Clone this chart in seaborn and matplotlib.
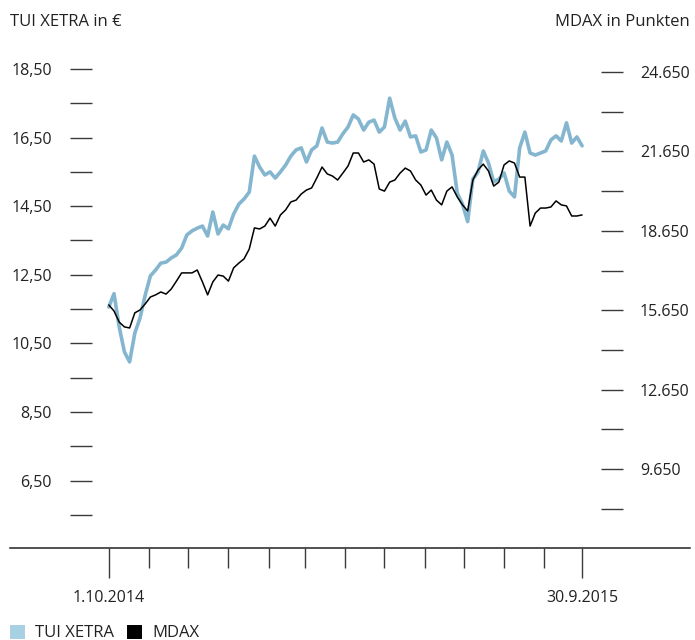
import matplotlib
matplotlib.use("Agg")
import matplotlib.pyplot as plt
from matplotlib.patches import Patch
import seaborn as sns
import numpy as np
import pandas as pd

# values, one point every 4 days
start = "2014-10-01"
end = "2015-09-30"

tui = [11.56, 11.95, 10.98, 10.25, 9.96, 10.80, 11.24, 11.91, 12.47, 12.64,
       12.84, 12.87, 12.99, 13.08, 13.28, 13.66, 13.78, 13.86, 13.92, 13.63,
       14.33, 13.69, 13.95, 13.84, 14.27, 14.56, 14.71, 14.91, 15.96, 15.64,
       15.41, 15.50, 15.32, 15.50, 15.70, 15.96, 16.14, 16.20, 15.79, 16.14,
       16.26, 16.78, 16.37, 16.34, 16.37, 16.61, 16.81, 17.16, 17.04, 16.72,
       16.95, 17.01, 16.66, 16.81, 17.65, 17.07, 16.72, 16.98, 16.52, 16.55,
       16.08, 16.14, 16.72, 16.49, 15.85, 16.37, 15.99, 14.88, 14.56, 14.05,
       15.29, 15.50, 16.11, 15.76, 15.21, 15.29, 15.47, 14.94, 14.77, 16.20,
       16.66, 16.05, 15.99, 16.05, 16.11, 16.43, 16.55, 16.40, 16.93, 16.34,
       16.52, 16.26]

mdax = [15850, 15620, 15200, 15020, 14980, 15550, 15660, 15890, 16150, 16230,
        16340, 16260, 16450, 16750, 17060, 17060, 17060, 17170, 16720, 16230,
        16720, 16980, 16940, 16750, 17250, 17430, 17590, 17960, 18760, 18720,
        18830, 19130, 18830, 19250, 19440, 19740, 19810, 20040, 20190, 20270,
        20650, 21060, 20800, 20720, 20570, 20830, 21100, 21590, 21590, 21250,
        21330, 21170, 20230, 20150, 20490, 20570, 20830, 21020, 20910, 20570,
        20380, 20000, 20190, 19810, 19630, 20150, 20310, 19930, 19630, 19400,
        20570, 20950, 21170, 20910, 20340, 20490, 21140, 21290, 21210, 20680,
        20680, 18830, 19320, 19510, 19510, 19550, 19780, 19630, 19590, 19210,
        19210, 19250]

left_ticks = [6.5, 8.5, 10.5, 12.5, 14.5, 16.5, 18.5]
left_labels = ["6,50", "8,50", "10,50", "12,50", "14,50", "16,50", "18,50"]
left_minor = [5.5, 7.5, 9.5, 11.5, 13.5, 15.5, 17.5]
right_ticks = [9650, 12650, 15650, 18650, 21650, 24650]
right_labels = ["9.650", "12.650", "15.650", "18.650", "21.650", "24.650"]
right_minor = [8150, 11150, 14150, 17150, 20150, 23150]
x_labels = ["1.10.2014", "30.9.2015"]

dates = pd.date_range(start, end, freq="4D")
df = pd.DataFrame({"date": dates, "tui": tui, "mdax": mdax})

sns.set_style("white")
plt.rcParams["font.family"] = ["Open Sans", "DejaVu Sans"]
plt.rcParams["axes.unicode_minus"] = False

blue_line = "#85b6cf"
blue_patch = "#a8d0e3"
txt = "#222222"
tick_c = "#3a3a3a"

fig = plt.figure(figsize=(6.95, 6.40), dpi=100)
ax = fig.add_axes([10 / 695, 92 / 640, 680 / 695, 508 / 640])
ax2 = ax.twinx()

sns.lineplot(data=df, x="date", y="tui", ax=ax, color=blue_line, linewidth=2.6)
sns.lineplot(data=df, x="date", y="mdax", ax=ax2, color="black", linewidth=1.1)

t0 = pd.Timestamp(start)
ax.set_xlim(t0 - pd.Timedelta(days=76), t0 + pd.Timedelta(days=447))
ax.set_ylim(4.535, 19.345)
ax2.set_ylim(6667, 25859)

for a in (ax, ax2):
    for s in a.spines.values():
        s.set_visible(False)
    a.set_xlabel("")
    a.set_ylabel("")

ax.spines["bottom"].set_visible(True)
ax.spines["bottom"].set_color("#222222")
ax.spines["bottom"].set_linewidth(1.1)

# left axis ticks sit inside the frame
ax.spines["left"].set_position(("axes", 82 / 680))
ax.set_yticks(left_ticks)
ax.set_yticklabels(left_labels)
ax.set_yticks(left_minor, minor=True)
ax.tick_params(axis="y", which="both", left=True, direction="out", length=16,
               width=1.0, color=tick_c, pad=13, labelsize=11.5, labelcolor=txt)

ax2.spines["right"].set_position(("axes", 591 / 680))
ax2.set_yticks(right_ticks)
ax2.set_yticklabels(right_labels)
ax2.set_yticks(right_minor, minor=True)
ax2.tick_params(axis="y", which="both", right=True, direction="out", length=16,
                width=1.0, color=tick_c, pad=12, labelsize=11.5, labelcolor=txt)

months = pd.date_range("2014-11-01", "2015-09-01", freq="MS")
ax.set_xticks([pd.Timestamp(start), pd.Timestamp(end)])
ax.set_xticklabels(x_labels)
ax.set_xticks(months, minor=True)
ax.tick_params(axis="x", which="major", bottom=True, direction="out", length=21.6,
               width=1.0, color=tick_c, pad=9, labelsize=11.5, labelcolor=txt)
ax.tick_params(axis="x", which="minor", bottom=True, direction="out", length=14.4,
               width=1.0, color=tick_c)

fig.text(10 / 695, 1 - 22 / 640, "TUI XETRA in €", ha="left", va="center",
         fontsize=12, color=txt)
fig.text(690 / 695, 1 - 22 / 640, "MDAX in Punkten", ha="right", va="center",
         fontsize=12, color=txt)

handles = [Patch(facecolor=blue_patch, edgecolor="none", label="TUI XETRA"),
           Patch(facecolor="black", edgecolor="none", label="MDAX")]
fig.legend(handles=handles, loc="center left", bbox_to_anchor=(10 / 695, 7 / 640),
           ncol=2, frameon=False, fontsize=12, handlelength=0.9, handleheight=0.9,
           handletextpad=0.6, columnspacing=0.8, borderpad=0, borderaxespad=0,
           labelcolor=txt)

plt.savefig("out.png", dpi=100)
plt.close()
